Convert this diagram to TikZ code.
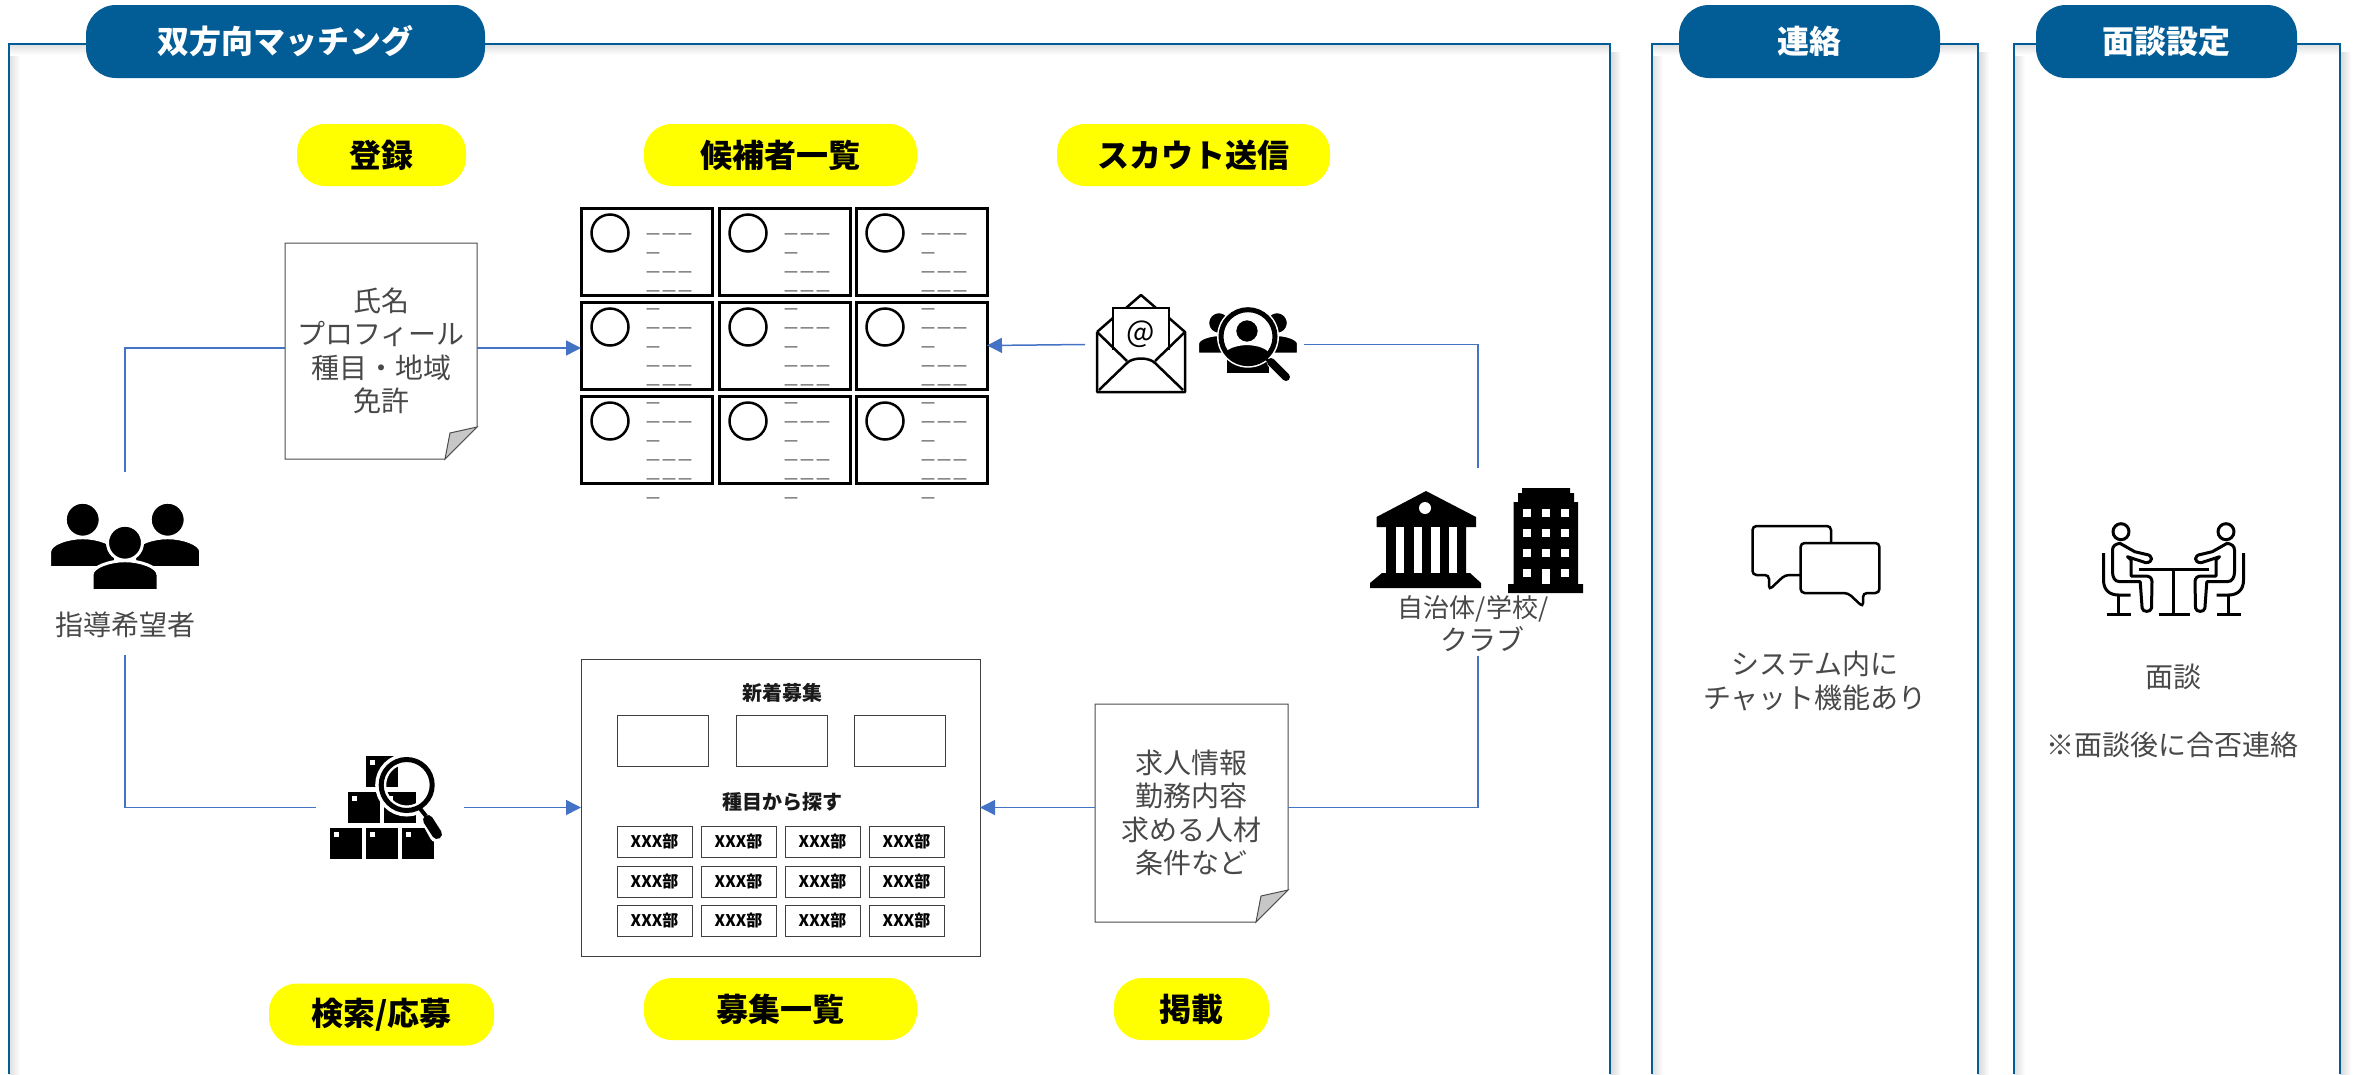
\documentclass[tikz,border=0pt]{standalone}
\usepackage{fontspec}
\usepackage{xcolor}
\usetikzlibrary{arrows.meta,calc,positioning}
\setmainfont{Noto Sans CJK JP}
\definecolor{navy}{HTML}{025C96}
\definecolor{flow}{HTML}{4472C4}
\definecolor{bodytext}{HTML}{484848}
\definecolor{stepyellow}{HTML}{FFFF00}
\tikzset{%
	frameline/.style = {draw=navy, line width=1.5},
	titlepill/.style = {fill=navy, text=white, rounded corners=30pt, minimum height=73, font=\fontsize{32}{38}\selectfont\bfseries},
	steppill/.style  = {fill=stepyellow, text=black, rounded corners=28pt, minimum height=62, font=\fontsize{32}{38}\selectfont\bfseries},
	bodylabel/.style = {text=bodytext, align=center, inner sep=0, font=\fontsize{28}{33.5}\selectfont},
	sheet/.style     = {text=bodytext, align=center, inner sep=0, outer sep=0, font=\fontsize{28}{33.5}\selectfont},
	card/.style      = {draw=black, line width=3, fill=white, inner sep=0, outer sep=0, minimum width=131, minimum height=87, anchor=north west},
	cardtext/.style  = {text=black!55, align=left, inner sep=0, anchor=north west, font=\fontsize{16}{19}\selectfont},
	slot/.style      = {draw=black!75, line width=1, inner sep=0, outer sep=0, anchor=north west},
	slothead/.style  = {text=black!90, inner sep=0, font=\fontsize{20}{24}\selectfont\bfseries},
	spot/.style      = {inner sep=0, outer sep=0, minimum width=#1},
	flowline/.style  = {draw=flow, line width=1.5},
	flowarrow/.style = {flowline, -{Triangle[length=15,width=15]}},
	pics/person/.style = {code={
		\path[fill=black, draw=white, line width=3] (0,0) circle (17.5);
		\path[fill=black, draw=white, line width=3] (-33,48) -- (-33,32) .. controls (-33,24) and (-15,18) .. (0,18) .. controls (15,18) and (33,24) .. (33,32) -- (33,48) -- cycle;
	}},
}
\newcommand{\foldsheet}[1]{%
	\draw[black!70, line width=1, fill=white] (#1.north west) -- (#1.north east) -- ([yshift=32]#1.south east) -- ([xshift=-32]#1.south east) -- (#1.south west) -- cycle;
	\draw[black!70, line width=1, fill=black!22] ([xshift=-32]#1.south east) -- ([yshift=32]#1.south east) -- ([xshift=-27,yshift=26]#1.south east) -- cycle;
}
\begin{document}
\begin{tikzpicture}[x=1pt,y=-1pt]
	\useasboundingbox (0,0) rectangle (2354,1074);
	% frames
	\foreach \xa/\xb in {9/1610,1652/1978,2014/2340} {
		\shade[left color=black!13, right color=white] (\xa,44) rectangle (\xa+11,1074);
		\shade[top color=black!13, bottom color=white] (\xa,44) rectangle (\xb,55);
		\shade[left color=black!16, right color=white] (\xb,52) rectangle (\xb+11,1074);
		\draw[frameline] (\xa,1074) -- (\xa,44) -- (\xb,44) -- (\xb,1074);
	}
	\node[titlepill, minimum width=399] (matchhead) at (285.5,41.5) {双方向マッチング};
	\node[titlepill, minimum width=261] (contacthead) at (1809.5,41.5) {連絡};
	\node[titlepill, minimum width=261] (meethead) at (2166.5,41.5) {面談設定};
	% steps
	\node[steppill, minimum width=169] (stepreg) at (381.5,155) {登録};
	\node[steppill, minimum width=273] (steplist) at (780.5,155) {候補者一覧};
	\node[steppill, minimum width=273] (stepscout) at (1193.5,155) {スカウト送信};
	\node[steppill, minimum width=225] (stepsearch) at (381.5,1014.5) {検索/応募};
	\node[steppill, minimum width=273] (steppost) at (780.5,1009) {募集一覧};
	\node[steppill, minimum width=155] (stepput) at (1191.5,1009) {掲載};
	% candidate cards
	\foreach \r/\ty/\ta/\lines in {1/208/25/{ーーー\\ー\\ーーー\\ーーー},2/302/6/{ー\\ーーー\\ー\\ーーー\\ーーー},3/396/6/{ー\\ーーー\\ー\\ーーー\\ーーー\\ー}} {
		\foreach \c/\lx in {1/581,2/719,3/856} {
			\node[card] (card\r\c) at (\lx,\ty) {};
			\draw[black, line width=2.5] (\lx+29,\ty+25) circle (18.5);
			\node[cardtext] (cardtext\r\c) at (\lx+64,\ty+\ta) {\lines};
		}
	}
	% sheets
	\node[sheet, minimum width=192, minimum height=216] (docreg) at (381,351) {};
	\foldsheet{docreg}
	\node[sheet] (docregtext) at (381,351) {氏名\\プロフィール\\種目・地域\\免許};
	\node[sheet, minimum width=193, minimum height=218] (docpost) at (1191.5,813) {};
	\foldsheet{docpost}
	\node[sheet] (docposttext) at (1191,813) {求人情報\\勤務内容\\求める人材\\条件など};
	% recruiting page
	\node[draw=black!75, line width=1, inner sep=0, outer sep=0, minimum width=399, minimum height=297] (panel) at (780.5,807.5) {};
	\node[slothead] (panelnew) at (782,693) {新着募集};
	\node[slothead] (panelkind) at (782,802) {種目から探す};
	\foreach \i/\lx in {1/617,2/736,3/854}
		\node[slot, minimum width=91, minimum height=51] (newbox\i) at (\lx,715) {};
	\foreach \r/\ty in {1/826,2/866,3/905}
		\foreach \c/\lx in {1/617,2/701,3/785,4/869}
			\node[slot, minimum width=75, minimum height=31, text=black, font=\fontsize{16}{19}\selectfont\bfseries] (kind\r\c) at (\lx,\ty) {XXX部};
	% seeker
	\node[spot=150, minimum height=116] (seekicon) at (125,530) {};
	\pic at (82.7,519.7) {person};
	\pic at (167.7,519.7) {person};
	\pic at (125,542.7) {person};
	\node[bodylabel, outer sep=0, minimum height=60] (seeklabel) at (125,625) {指導希望者};
	% box search icon
	\node[spot=148, minimum height=20] (searchicon) at (390,807.5) {};
	\foreach \bx/\by in {330/828,366/828,402/828,348/792,384/792,366/756} {
		\fill[black] (\bx,\by) rectangle (\bx+32,\by+31);
		\fill[white] (\bx+4,\by+4) rectangle (\bx+9,\by+9);
	}
	\draw[white, line width=11] (406.7,785) circle (26);
	\draw[white, line width=15, line cap=round] (427,817) -- (437,835);
	\draw[black, line width=5] (406.7,785) circle (25.5);
	\draw[black, line width=4] (418,806) -- (426,816);
	\draw[black, line width=10, line cap=round] (428,820) -- (437,834);
	% mail and person search icons
	\node[spot=219, minimum height=10] (scouticon) at (1194.5,344.5) {};
	\draw[black, line width=2.5, line join=round] (1097,332) -- (1097,392) -- (1185,392) -- (1185,332) -- (1169,318);
	\draw[black, line width=2.5, line join=round] (1097,332) -- (1113,318) (1126,308) -- (1141,295) -- (1156,308);
	\draw[black, line width=2.5] (1113,350) -- (1113,308) -- (1169,308) -- (1169,350);
	\draw[black, line width=2.5] (1097,332) -- (1127,361) (1185,332) -- (1155,361);
	\draw[black, line width=2.5] (1099,390) -- (1127,363) .. controls (1133,357) and (1149,357) .. (1155,363) -- (1183,390);
	\node[inner sep=0, text=black, font=\fontsize{30}{36}\selectfont] (mailmark) at (1141,334) {@};
	\begin{scope}
		\pic[scale=.65] at (1219,323) {person};
		\pic[scale=.65] at (1277,323) {person};
		\fill[black] (1227,355) rectangle (1269,373);
		\fill[white] (1248,336.7) circle (31);
		\clip (1248,336.7) circle (25);
		\pic[scale=.7] at (1247,331) {person};
	\end{scope}
	\draw[black, line width=5] (1248,336.7) circle (27);
	\draw[white, line width=11, line cap=round] (1272,362) -- (1286,377);
	\draw[black, line width=3] (1264,357) -- (1272,364);
	\draw[black, line width=8, line cap=round] (1271,362) -- (1286,377);
	% museum and office icons
	\node[spot=220, minimum height=188] (clubicon) at (1478,562) {};
	\fill[black] (1426,491) -- (1476,517) -- (1476,527) -- (1466,527) -- (1466,573) -- (1470,573) -- (1481,583) -- (1481,588) -- (1370,588) -- (1370,583) -- (1382,573) -- (1386,573) -- (1386,527) -- (1376.5,527) -- (1376.5,517) -- cycle;
	\fill[white] (1425,508) circle (6);
	\foreach \sx in {1395.5,1413.5,1431,1448.6}
		\fill[white] (\sx,527) rectangle (\sx+8.5,573);
	\fill[black] (1508,593) -- (1508,584) -- (1513.5,584) -- (1513.5,502) -- (1518,502) -- (1518,493) -- (1522,493) -- (1522,488) -- (1570,488) -- (1570,493) -- (1574,493) -- (1574,502) -- (1578,502) -- (1578,584) -- (1583,584) -- (1583,593) -- cycle;
	\foreach \wy in {509,529,549,569}
		\foreach \wx in {1523,1541.7,1560.7}
			\fill[white] (\wx,\wy) rectangle (\wx+8.4,\wy+8);
	\fill[white] (1541.7,569) rectangle (1550.1,584);
	\node[bodylabel] (clublabel) at (1482,623.5) {{\fontsize{26}{33.5}\selectfont 自治体/学校/\kern18pt}\\クラブ};
	% connectors
	\draw[flowline] (seekicon.north) |- ([yshift=3]docreg.west);
	\draw[flowarrow] ([yshift=3]docreg.east) -- ([yshift=-2.5]card21.west);
	\draw[flowline] (seeklabel.south) |- (searchicon.west);
	\draw[flowarrow] (searchicon.east) -- (panel.west);
	\draw[flowarrow] (scouticon.west) -- (card23.east);
	\draw[flowline] (scouticon.east) -| (clubicon.north);
	\draw[flowline] (clubicon.south) |- ([yshift=5.5]docpost.east);
	\draw[flowarrow] ([yshift=5.5]docpost.west) -- (panel.east);
	% chat icon
	\draw[black, line width=2.5, fill=white, rounded corners=4] (1752.5,526) -- (1831,526) -- (1831,575) -- (1785,575) -- (1769,590) -- (1769,575) -- (1752.5,575) -- cycle;
	\draw[black, line width=2.5, fill=white, rounded corners=4] (1800.6,543) -- (1879.4,543) -- (1879.4,593) -- (1863,593) -- (1863,607) -- (1848,593) -- (1800.6,593) -- cycle;
	\node[bodylabel] (chatlabel) at (1815,681) {システム内に\\チャット機能あり};
	% meeting icon
	\begin{scope}[shift={(2173.5,500)}, line width=3, line join=round]
		\foreach \s in {1,-1} {
			\begin{scope}[xscale=\s]
				\draw (-52.5,31.7) circle (8);
				\draw (-53.6,43.3) .. controls (-58,44) and (-61,46) .. (-61,50) -- (-61,71.7) .. controls (-61,77) and (-59,81.7) .. (-53.6,81.7) -- (-33.3,81.7) -- (-31.4,108) .. controls (-31,112.5) and (-22.5,112.5) .. (-22,108) -- (-21.5,81.7) .. controls (-21.5,78) and (-24,76) .. (-27.8,76) -- (-42.5,76) -- (-42.5,60) -- (-46,56.7) -- (-27.8,62.7) .. controls (-20,62.7) and (-20,55) .. (-27.8,54.3) -- (-38.8,51.7) -- cycle;
				\draw (-70,53) -- (-70,80) .. controls (-70,90) and (-64,95) .. (-55,95) -- (-43,95);
				\draw (-55,95) -- (-55,114);
				\draw (-67,114) -- (-43,114);
			\end{scope}
		}
		\draw (-35,69) -- (35,69);
		\draw (0,69) -- (0,114);
		\draw (-15,114) -- (16,114);
	\end{scope}
	\node[bodylabel] (meetlabel) at (2173,677) {面談};
	\node[bodylabel] (meetnote) at (2172,745) {※面談後に合否連絡};
\end{tikzpicture}
\end{document}
